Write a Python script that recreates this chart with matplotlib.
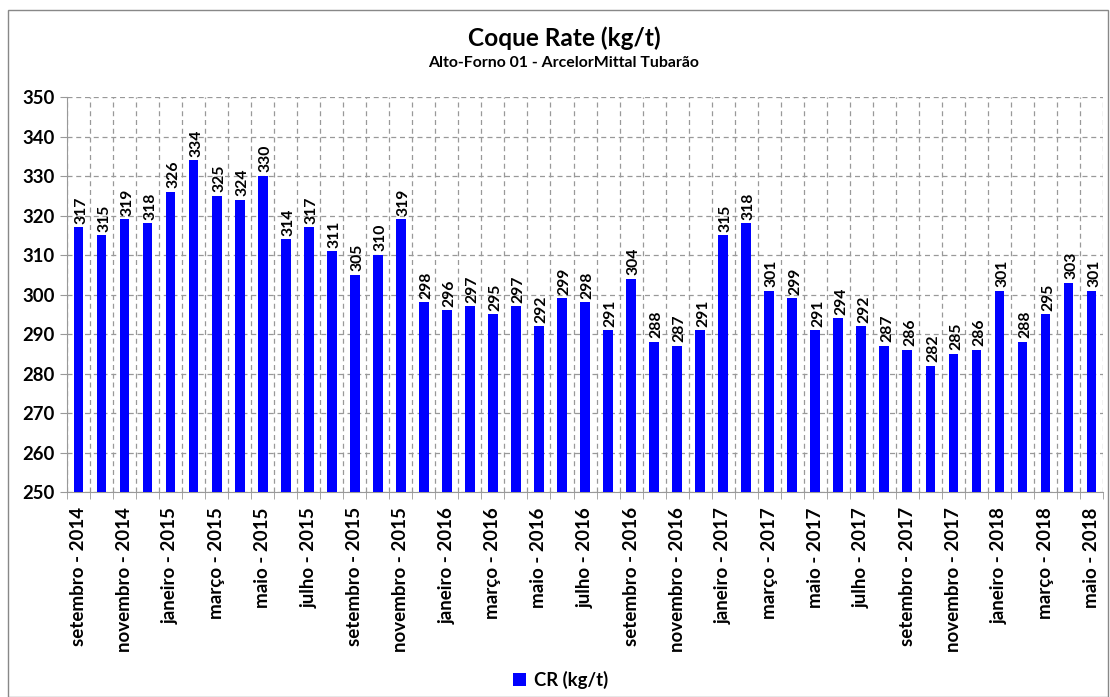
import matplotlib
matplotlib.use("Agg")
import matplotlib.pyplot as plt
from matplotlib.patches import Rectangle
import numpy as np

months = ["setembro - 2014", "outubro - 2014", "novembro - 2014", "dezembro - 2014",
          "janeiro - 2015", "fevereiro - 2015", "março - 2015", "abril - 2015", "maio - 2015",
          "junho - 2015", "julho - 2015", "agosto - 2015", "setembro - 2015", "outubro - 2015",
          "novembro - 2015", "dezembro - 2015",
          "janeiro - 2016", "fevereiro - 2016", "março - 2016", "abril - 2016", "maio - 2016",
          "junho - 2016", "julho - 2016", "agosto - 2016", "setembro - 2016", "outubro - 2016",
          "novembro - 2016", "dezembro - 2016",
          "janeiro - 2017", "fevereiro - 2017", "março - 2017", "abril - 2017", "maio - 2017",
          "junho - 2017", "julho - 2017", "agosto - 2017", "setembro - 2017", "outubro - 2017",
          "novembro - 2017", "dezembro - 2017",
          "janeiro - 2018", "fevereiro - 2018", "março - 2018", "abril - 2018", "maio - 2018"]
cr_values = [317, 315, 319, 318, 326, 334, 325, 324, 330, 314,
             317, 311, 305, 310, 319, 298, 296, 297, 295, 297,
             292, 299, 298, 291, 304, 288, 287, 291, 315, 318,
             301, 299, 291, 294, 292, 287, 286, 282, 285, 286,
             301, 288, 295, 303, 301]
y_ticks = [250, 260, 270, 280, 290, 300, 310, 320, 330, 340, 350]

plt.rcParams['font.family'] = ['Lato', 'DejaVu Sans']

fig = plt.figure(figsize=(11.1, 6.97), dpi=100)
ax = fig.add_axes([0.0604, 0.2941, 0.9333, 0.5667])

x = np.arange(len(cr_values))
ax.bar(x, cr_values, width=0.42, color='#0000FF', label='CR (kg/t)', zorder=3)
for xi, v in zip(x, cr_values):
    ax.text(xi + 0.12, v + 0.9, str(v), rotation=90, ha='center', va='bottom',
            fontsize=11.3, fontweight='bold', zorder=4)

ax.set_ylim(250, 350)
ax.set_xlim(-0.5, len(cr_values) - 0.5)
ax.set_yticks(y_ticks)
ax.set_yticklabels([str(t) for t in y_ticks], fontsize=13.3, fontweight='bold')

ax.set_xticks(x[::2])
ax.set_xticklabels(months[::2], rotation=90, fontsize=13.5, fontweight='bold')
ax.tick_params(axis='x', which='major', length=0, pad=11)
ax.set_xticks(np.arange(-0.5, len(cr_values), 1), minor=True)
ax.tick_params(axis='x', which='minor', length=5, color='#999999')
ax.tick_params(axis='y', length=5, color='#999999', pad=4)

ax.grid(axis='y', which='major', linestyle=(0, (4, 3)), color='#999999', linewidth=0.9, zorder=0)
ax.grid(axis='x', which='minor', linestyle=(0, (4, 3)), color='#999999', linewidth=0.9, zorder=0)
ax.grid(axis='x', which='major', visible=False)

for s in ['top', 'right']:
    ax.spines[s].set_visible(False)
for s in ['left', 'bottom']:
    ax.spines[s].set_color('#999999')

fig.text(0.508, 0.945, 'Coque Rate (kg/t)', ha='center', va='center', fontsize=17.6, fontweight='bold')
fig.text(0.508, 0.91, 'Alto-Forno 01 - ArcelorMittal Tubarão', ha='center', va='center', fontsize=11.4, fontweight='bold')

fig.legend(loc='center', bbox_to_anchor=(0.505, 0.025), frameon=False,
           prop={'weight': 'bold', 'size': 13.3}, handlelength=0.7, handleheight=0.7, handletextpad=0.4)

fig.patches.append(Rectangle((8 / 1110, 0.0), 1100 / 1110, 1 - 10 / 697, transform=fig.transFigure,
                             fill=False, edgecolor='#888888', linewidth=1.0))

fig.savefig('out.png', dpi=100)
